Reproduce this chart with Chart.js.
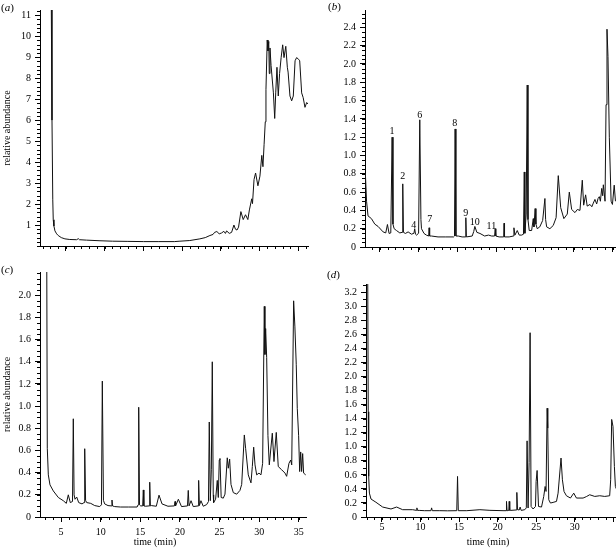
<!DOCTYPE html>
<html lang="en">
<head>
  <meta charset="UTF-8" />
  <title>Chromatograms a-d</title>
  <script src="https://cdn.jsdelivr.net/npm/chart.js"></script>
  <style>
    body {
      margin: 0;
      background: #fff;
      width: 616px;
      height: 548px;
      position: relative;
      overflow: hidden;
      font-family: "Liberation Serif", "DejaVu Serif", serif;
      color: #000;
    }
    canvas { position: absolute; }
    .tag {
      position: absolute;
      font-size: 11px;
      line-height: 11px;
      transform: translateY(-50%);
      white-space: nowrap;
    }
    .xtitle {
      position: absolute;
      font-size: 10px;
      line-height: 10px;
      transform: translate(-50%, -50%);
      white-space: nowrap;
    }
  </style>
</head>
<body>

<canvas id="chartA" width="312" height="262" style="left:0;top:0"></canvas>
<canvas id="chartB" width="310" height="262" style="left:306px;top:0"></canvas>
<canvas id="chartC" width="310" height="286" style="left:0;top:262px"></canvas>
<canvas id="chartD" width="310" height="286" style="left:306px;top:262px"></canvas>

<div class="tag" style="left:1px;top:7px">(<i>a</i>)</div>
<div class="tag" style="left:328px;top:6px">(<i>b</i>)</div>
<div class="tag" style="left:1px;top:269px">(<i>c</i>)</div>
<div class="tag" style="left:327px;top:274px">(<i>d</i>)</div>
<div class="xtitle" style="left:155px;top:542px">time (min)</div>
<div class="xtitle" style="left:488px;top:542px">time (min)</div>

<script>
// ---- data: [time (min), relative abundance] ----
const traceA = [
  [3.1,12],[3.2,6],[3.3,2.2],[3.36,1.25],[3.45,0.95],[3.58,0.72],[3.8,0.58],[4.0,0.5],[4.4,0.4],
  [4.87,0.34],[5.5,0.31],[6.38,0.3],[6.6,0.35],[6.75,0.3],[7.67,0.28],[9.4,0.25],[11,0.23],[13,0.22],
  [15,0.21],[17,0.21],[19,0.21],[19.73,0.23],[21,0.26],[22.3,0.34],[23,0.4],[23.6,0.5],[24.0,0.55],
  [24.2,0.65],[24.5,0.69],[24.8,0.58],[25.1,0.62],[25.4,0.7],[25.6,0.6],[25.76,0.72],[26.1,0.6],
  [26.4,0.65],[26.7,1.0],[26.9,0.8],[27.1,0.76],[27.3,0.9],[27.6,1.64],[27.9,1.26],[28.2,1.49],
  [28.5,1.26],[28.7,1.72],[29.0,2.25],[29.1,2.02],[29.3,3.17],[29.5,3.48],[29.8,2.87],[30.06,3.33],
  [30.3,4.32],[30.45,3.78],[30.6,4.85],[30.75,5.92],[30.84,7.45],[31.0,9.82],[31.1,9.3],[31.2,9.75],
  [31.27,8.22],[31.36,9.44],[31.5,8.6],[31.8,7.3],[31.97,6.08],[32.1,7.3],[32.26,8.52],[32.43,7.15],
  [32.6,8.22],[32.8,8.98],[33.0,9.59],[33.17,8.98],[33.4,9.52],[33.6,8.52],[33.7,8.29],[33.94,7.15],
  [34.16,6.92],[34.37,7.15],[34.6,8.83],[34.8,8.98],[35.06,8.9],[35.2,8.83],[35.45,7.3],[35.65,7.07],
  [35.88,6.61],[36.1,6.84],[36.26,6.77]
];

const traceB = [
  [3.15,0.8],[3.3,0.5],[3.49,0.34],[3.93,0.31],[4.36,0.25],[4.78,0.225],[5.43,0.165],[5.77,0.154],
  [5.99,0.246],[6.2,0.148],[6.42,0.154],[6.59,1.2],[6.7,0.25],[6.85,0.2],[7.15,0.18],[7.58,0.154],
  [7.88,0.16],[7.96,0.69],[8.05,0.16],[8.3,0.148],[8.65,0.165],[9.08,0.14],[9.4,0.15],[9.5,0.2],
  [9.6,0.14],[9.73,0.13],[10.0,0.15],[10.15,1.39],[10.3,0.3],[10.37,0.2],[10.7,0.148],[11.0,0.13],
  [11.3,0.12],[11.35,0.21],[11.42,0.12],[11.66,0.12],[12.5,0.11],[13.5,0.11],[14.5,0.11],[14.62,0.12],
  [14.7,1.29],[14.8,0.12],[15.1,0.12],[15.6,0.11],[16.0,0.11],[16.08,0.32],[16.15,0.11],[16.9,0.12],
  [17.1,0.17],[17.24,0.225],[17.5,0.16],[17.9,0.148],[18.5,0.12],[19.0,0.13],[19.4,0.12],
  [19.78,0.12],[19.86,0.2],[19.94,0.12],[20.37,0.11],[20.95,0.11],[21.0,0.26],[21.06,0.11],
  [21.66,0.11],[22.2,0.12],[22.27,0.21],[22.4,0.13],[22.7,0.18],[22.95,0.13],[23.26,0.13],[23.5,0.14],
  [23.6,0.82],[23.68,0.15],[23.85,0.36],[23.98,1.77],[24.08,0.3],[24.24,0.18],[24.55,0.18],[24.76,0.31],
  [24.85,0.22],[25.0,0.42],[25.1,0.25],[25.27,0.2],[25.6,0.22],[25.97,0.29],[26.26,0.53],[26.35,0.3],
  [26.48,0.22],[26.9,0.2],[27.33,0.235],[27.7,0.32],[27.98,0.78],[28.29,0.43],[28.7,0.31],[29.14,0.36],
  [29.4,0.6],[29.7,0.41],[30.13,0.376],[30.43,0.41],[30.77,0.4],[31.07,0.73],[31.25,0.457],[31.5,0.57],
  [31.7,0.447],[32.06,0.465],[32.3,0.44],[32.49,0.48],[32.7,0.52],[32.92,0.47],[33.1,0.53],[33.26,0.55],
  [33.4,0.5],[33.57,0.64],[33.7,0.56],[33.78,0.68],[34.0,0.5],[34.13,1.555],[34.25,2.38],[34.38,2.08],
  [34.55,1.2],[34.78,0.5],[34.95,0.465],[35.18,0.676],[35.34,0.5]
];

const traceC = [
  [3.2,2.4],[3.27,0.62],[3.4,0.38],[3.61,0.29],[4.03,0.235],[4.66,0.176],[5.29,0.147],[5.67,0.123],
  [5.92,0.2],[6.17,0.13],[6.45,0.14],[6.55,0.886],[6.65,0.2],[6.77,0.16],[6.98,0.18],[7.23,0.13],
  [7.65,0.118],[7.9,0.13],[7.99,0.616],[8.1,0.15],[8.24,0.13],[8.75,0.123],[9.25,0.103],[9.88,0.094],
  [10.1,0.11],[10.21,1.226],[10.35,0.15],[10.51,0.118],[10.93,0.103],[11.35,0.1],[11.43,0.153],[11.5,0.1],
  [11.77,0.094],[12.5,0.09],[13.5,0.09],[14.6,0.09],[14.72,0.11],[14.8,0.99],[14.9,0.11],[15.05,0.1],
  [15.3,0.1],[15.38,0.244],[15.45,0.1],[15.63,0.097],[16.1,0.1],[16.19,0.314],[16.27,0.1],[16.39,0.103],
  [17.02,0.097],[17.36,0.197],[17.74,0.118],[18.49,0.097],[19.3,0.1],[19.38,0.14],[19.45,0.1],[19.8,0.16],
  [20.2,0.094],[20.95,0.1],[21.05,0.24],[21.15,0.1],[21.4,0.147],[21.68,0.094],[22.28,0.1],[22.36,0.33],
  [22.45,0.103],[22.65,0.147],[22.94,0.097],[23.37,0.112],[23.6,0.14],[23.7,0.857],[23.83,0.147],
  [23.96,0.426],[24.08,1.4],[24.2,0.2],[24.25,0.13],[24.5,0.16],[24.71,0.33],[24.84,0.176],[24.96,0.514],
  [25.05,0.528],[25.2,0.176],[25.47,0.17],[25.68,0.206],[25.97,0.534],[26.1,0.44],[26.27,0.522],
  [26.44,0.294],[26.73,0.22],[27.16,0.206],[27.57,0.24],[27.79,0.294],[28.12,0.74],[28.29,0.616],
  [28.62,0.38],[28.96,0.308],[29.13,0.455],[29.3,0.63],[29.47,0.47],[29.68,0.38],[29.97,0.396],
  [30.22,0.38],[30.43,0.484],[30.64,1.9],[30.72,1.466],[30.81,1.7],[30.94,1.437],[31.1,0.733],
  [31.27,0.47],[31.65,0.756],[31.86,0.5],[32.15,0.763],[32.4,0.455],[32.83,0.426],[33.25,0.396],
  [33.46,0.367],[33.75,0.484],[33.97,0.514],[34.1,0.47],[34.34,1.95],[34.5,1.715],[34.67,1.378],
  [34.8,0.98],[34.97,0.733],[35.1,0.41],[35.23,0.587],[35.35,0.41],[35.48,0.572],[35.6,0.396],[35.86,0.38]
];

const traceD = [
  [3.15,3.6],[3.22,1.5],[3.28,0.58],[3.37,0.34],[3.58,0.256],[4.22,0.21],[5.09,0.142],[6.17,0.114],
  [6.9,0.142],[7.68,0.104],[8.98,0.104],[9.45,0.095],[9.53,0.13],[9.6,0.095],[9.83,0.094],[10.5,0.09],
  [11.35,0.09],[11.44,0.13],[11.52,0.09],[12.5,0.09],[13.5,0.088],[14.7,0.09],[14.8,0.578],[14.9,0.09],
  [16,0.09],[17.7,0.104],[19,0.095],[20.7,0.09],[21.1,0.09],[21.15,0.222],[21.22,0.09],[21.3,0.094],
  [21.45,0.094],[21.5,0.222],[21.57,0.094],[21.67,0.094],[22.4,0.1],[22.49,0.35],[22.58,0.104],[22.8,0.1],
  [22.92,0.142],[23.05,0.094],[23.52,0.104],[23.72,0.13],[23.82,1.085],[23.95,0.128],[24.08,0.777],
  [24.21,2.626],[24.34,0.15],[24.6,0.114],[24.91,0.15],[24.99,0.506],[25.12,0.663],[25.3,0.15],
  [25.69,0.142],[25.98,0.293],[26.16,0.435],[26.28,0.364],[26.42,1.55],[26.5,1.266],[26.63,0.246],
  [26.85,0.199],[27.19,0.208],[27.63,0.222],[27.84,0.34],[28.22,0.84],[28.4,0.53],[28.61,0.364],
  [28.92,0.303],[29.44,0.27],[29.87,0.34],[30.22,0.27],[31.08,0.27],[31.5,0.29],[31.94,0.317],
  [32.6,0.293],[33.24,0.303],[33.89,0.293],[34.53,0.303],[34.66,0.53],[34.79,1.39],[34.96,1.29],
  [35.14,0.72],[35.27,0.435],[35.4,0.4]
];

// numbered peaks in panel (b)
const peakNames = ['1', '2', '4', '6', '7', '8', '9', '10', '11'];
const peakTimes = [6.59, 7.96, 9.38, 10.15, 11.44, 14.66, 16.08, 17.24, 19.36];
const peakLabelLevels = [1.26, 0.77, 0.235, 1.44, 0.3, 1.35, 0.365, 0.27, 0.23];

// tick values and labels
const timeTicks = [5, 10, 15, 20, 25, 30, 35];
const timeLabelsC = [5, 10, 15, 20, 25, 30, 35];
const timeLabelsD = [5, 10, 15, 20, 25, 30];
const yTicksA = [1, 2, 3, 4, 5, 6, 7, 8, 9, 10, 11];
const yTicksB = [0, 0.2, 0.4, 0.6, 0.8, 1.0, 1.2, 1.4, 1.6, 1.8, 2.0, 2.2, 2.4];
const yTicksC = [0, 0.2, 0.4, 0.6, 0.8, 1.0, 1.2, 1.4, 1.6, 1.8, 2.0];
const yTicksD = [0, 0.2, 0.4, 0.6, 0.8, 1.0, 1.2, 1.4, 1.6, 1.8, 2.0, 2.2, 2.4, 2.6, 2.8, 3.0, 3.2];

Chart.defaults.font.family = '"Liberation Serif", "DejaVu Serif", serif';
Chart.defaults.font.size = 10;
Chart.defaults.color = '#000';

// minor tick marks and time labels, placed with the chart's own scales
const axisExtras = {
  id: 'axisExtras',
  afterDraw(chart, args, opts) {
    const ctx = chart.ctx;
    const xs = chart.scales.x, ys = chart.scales.y;
    ctx.save();
    ctx.strokeStyle = '#000';
    ctx.lineWidth = 1;
    ctx.beginPath();
    const x0 = Math.ceil(xs.min / opts.xStep);
    for (let i = x0; i * opts.xStep <= xs.max; i++) {
      const px = Math.round(xs.getPixelForValue(i * opts.xStep)) + 0.5;
      ctx.moveTo(px, xs.top);
      ctx.lineTo(px, xs.top + opts.len);
    }
    for (let i = 0; i * opts.yStep <= ys.max; i++) {
      const py = Math.round(ys.getPixelForValue(i * opts.yStep)) + 0.5;
      ctx.moveTo(ys.right, py);
      ctx.lineTo(ys.right - opts.len, py);
    }
    ctx.stroke();

    if (opts.labels) {
      ctx.fillStyle = '#000';
      ctx.font = '10px "Liberation Serif", serif';
      ctx.textAlign = 'center';
      ctx.textBaseline = 'middle';
      opts.labels.forEach(v => {
        ctx.fillText(String(v), xs.getPixelForValue(v), xs.top + opts.labelOffset);
      });
    }
    ctx.restore();
  }
};

const peakNumbers = {
  id: 'peakNumbers',
  afterDatasetsDraw(chart) {
    const ctx = chart.ctx;
    const xs = chart.scales.x, ys = chart.scales.y;
    ctx.save();
    ctx.fillStyle = '#000';
    ctx.font = '10px "Liberation Serif", serif';
    ctx.textAlign = 'center';
    ctx.textBaseline = 'middle';
    peakNames.forEach((name, i) => {
      ctx.fillText(name, xs.getPixelForValue(peakTimes[i]), ys.getPixelForValue(peakLabelLevels[i]));
    });
    ctx.restore();
  }
};

function makeChart(id, trace, p) {
  const ctx = document.getElementById(id).getContext('2d');
  return new Chart(ctx, {
    type: 'scatter',
    data: {
      datasets: [{
        data: trace.map(d => ({ x: d[0], y: d[1] })),
        showLine: true,
        borderColor: '#111',
        borderWidth: 1,
        pointRadius: 0,
        tension: 0,
        fill: false
      }]
    },
    options: {
      responsive: false,
      animation: false,
      events: [],
      layout: { padding: p.padding },
      plugins: {
        legend: { display: false },
        tooltip: { enabled: false },
        axisExtras: { xStep: 1, yStep: p.yMinor, len: 3, labels: p.xLabels, labelOffset: p.xLabelOffset }
      },
      scales: {
        x: {
          type: 'linear',
          min: p.xMin,
          max: p.xMax,
          afterBuildTicks: s => { s.ticks = timeTicks.map(v => ({ value: v })); },
          afterFit: s => { s.height = p.xHeight; },
          ticks: { display: false },
          grid: { display: true, drawOnChartArea: false, tickLength: 5, tickColor: '#000' },
          border: { display: true, color: '#000', width: 1 }
        },
        y: {
          type: 'linear',
          min: 0,
          max: p.yMax,
          afterBuildTicks: s => { s.ticks = p.yTicks.map(v => ({ value: v })); },
          afterFit: s => { s.width = p.yWidth; },
          ticks: {
            autoSkip: false,
            padding: 4,
            callback: v => p.intLabels ? String(v) : (v === 0 ? '0' : v.toFixed(1))
          },
          title: {
            display: p.yTitle,
            text: 'relative abundance',
            padding: { top: 1, bottom: 0 },
            font: { size: 10 }
          },
          grid: { display: true, drawOnChartArea: false, tickLength: 5, tickColor: '#000' },
          border: { display: true, color: '#000', width: 1 }
        }
      }
    },
    plugins: p.extra ? [axisExtras, p.extra] : [axisExtras]
  });
}

makeChart('chartA', traceA, {
  padding: { top: 2, right: 4, left: 0, bottom: 0 },
  xMin: 1.65, xMax: 36.27, yMax: 11.25,
  yTicks: yTicksA, intLabels: true, yMinor: 0.2,
  yWidth: 40, xHeight: 16, xLabels: null, xLabelOffset: 0, yTitle: true
});

makeChart('chartB', traceB, {
  padding: { top: 2, right: 0, left: 0, bottom: 0 },
  xMin: 3.1, xMax: 35.41, yMax: 2.59,
  yTicks: yTicksB, intLabels: false, yMinor: 0.05,
  yWidth: 59, xHeight: 15, xLabels: null, xLabelOffset: 0, yTitle: false,
  extra: peakNumbers
});

makeChart('chartC', traceC, {
  padding: { top: 3, right: 4, left: 0, bottom: 0 },
  xMin: 2.35, xMax: 35.9, yMax: 2.21,
  yTicks: yTicksC, intLabels: false, yMinor: 0.05,
  yWidth: 40, xHeight: 31, xLabels: timeLabelsC, xLabelOffset: 15, yTitle: true
});

makeChart('chartD', traceD, {
  padding: { top: 22, right: 0, left: 0, bottom: 0 },
  xMin: 2.93, xMax: 35.35, yMax: 3.32,
  yTicks: yTicksD, intLabels: false, yMinor: 0.1,
  yWidth: 60, xHeight: 31, xLabels: timeLabelsD, xLabelOffset: 10, yTitle: false
});
</script>
</body>
</html>
